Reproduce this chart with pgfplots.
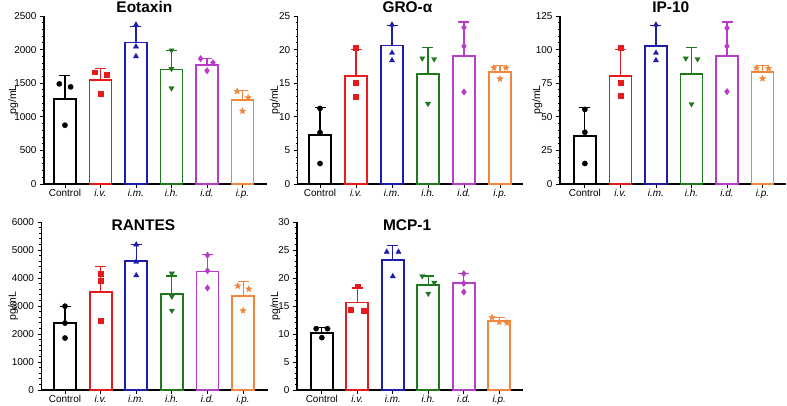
\documentclass[border=0pt]{standalone}
\usepackage{fontspec}
\setmainfont{Liberation Sans}
\usepackage{pgfplots}
\pgfplotsset{compat=1.18}
\definecolor{cK}{RGB}{0,0,0}
\definecolor{cR}{RGB}{228,26,28}
\definecolor{cB}{RGB}{30,30,170}
\definecolor{cG}{RGB}{30,120,30}
\definecolor{cM}{RGB}{185,60,200}
\definecolor{cO}{RGB}{240,135,60}
\pgfdeclareplotmark{fstar}{%
  \pgfpathmoveto{\pgfpointpolar{90}{\pgfplotmarksize}}%
  \pgfpathlineto{\pgfpointpolar{126}{0.45\pgfplotmarksize}}%
  \pgfpathlineto{\pgfpointpolar{162}{\pgfplotmarksize}}%
  \pgfpathlineto{\pgfpointpolar{198}{0.45\pgfplotmarksize}}%
  \pgfpathlineto{\pgfpointpolar{234}{\pgfplotmarksize}}%
  \pgfpathlineto{\pgfpointpolar{270}{0.45\pgfplotmarksize}}%
  \pgfpathlineto{\pgfpointpolar{306}{\pgfplotmarksize}}%
  \pgfpathlineto{\pgfpointpolar{342}{0.45\pgfplotmarksize}}%
  \pgfpathlineto{\pgfpointpolar{18}{\pgfplotmarksize}}%
  \pgfpathlineto{\pgfpointpolar{54}{0.45\pgfplotmarksize}}%
  \pgfpathclose\pgfusepathqfillstroke}
\pgfplotsset{
  panel/.style={scale only axis, height=168bp, clip=false,
    axis lines*=left, enlargelimits=false, ymin=0,
    axis line style={line width=1.1bp},
    tick align=outside, major tick length=4bp, minor tick length=2.2bp,
    every tick/.style={line width=0.9bp, black},
    minor y tick num=4,
    xtick={0,1,2,3,4,5},
    xticklabels={Control,\textit{i.v.},\textit{i.m.},\textit{i.h.},\textit{i.d.},\textit{i.p.}},
    tick label style={font=\fontsize{10}{11}\selectfont},
    xticklabel style={yshift=1.8bp},
    /pgf/number format/assume math mode=true,
    /pgf/number format/1000 sep={},
    ylabel={pg/mL}, ylabel style={font=\fontsize{10.5}{12}\selectfont, anchor=center},
  },
  barc/.style={ybar, bar width=22bp, bar shift=0pt, fill=white, draw=#1, line width=1.8bp,
    error bars/.cd, y dir=plus, y explicit,
    error bar style={#1, line width=1.1bp},
    error mark options={#1, line width=1.1bp, mark size=5.5bp, rotate=90}},
  pC/.style={only marks, mark=*, mark size=2.6bp, cK, draw=cK, fill=cK},
  pR/.style={only marks, mark=square*, mark size=2.4bp, cR, draw=cR, fill=cR},
  pB/.style={only marks, mark=triangle*, mark size=3bp, cB, draw=cB, fill=cB},
  pG/.style={only marks, mark=triangle*, mark options={rotate=180}, mark size=3bp, cG, draw=cG, fill=cG},
  pM/.style={only marks, mark=diamond*, mark size=3.2bp, cM, draw=cM, fill=cM},
  pO/.style={only marks, mark=fstar, mark size=3.2bp, cO, draw=cO, fill=cO},
}
\newcommand{\ttl}[3]{\node[font=\bfseries\fontsize{15.5}{17}\selectfont] at (axis description cs:#1,#2) {#3};}
\begin{document}
\begin{tikzpicture}[x=1bp,y=1bp]
\useasboundingbox (0,0) rectangle (787,405);
% ---------------- Eotaxin
\begin{axis}[panel, at={(44bp,221bp)}, anchor=south west, width=223bp,
  xmin=-0.59, xmax=5.69, ymax=2500, ytick distance=500,
  ylabel style={at={(axis description cs:-0.137,0.5)}}]
\addplot[barc=cK] coordinates {(0,1270) +- (0,345)};
\addplot[barc=cR] coordinates {(1,1545) +- (0,180)};
\addplot[barc=cB] coordinates {(2,2105) +- (0,245)};
\addplot[barc=cG] coordinates {(3,1705) +- (0,285)};
\addplot[barc=cM] coordinates {(4,1775) +- (0,95)};
\addplot[barc=cO] coordinates {(5,1245) +- (0,150)};
\addplot[pC] coordinates {(-0.16,1490) (0.16,1445) (0,875)};
\addplot[pR] coordinates {(0.84,1665) (1.17,1625) (1,1340)};
\addplot[pB] coordinates {(2,2370) (2,2045) (2,1900)};
\addplot[pG] coordinates {(3,1990) (3,1715) (3,1425)};
\addplot[pM] coordinates {(3.82,1865) (4.17,1805) (4,1685)};
\addplot[pO] coordinates {(4.85,1380) (5.16,1285) (5,1085)};
\ttl{0.45}{1.052}{Eotaxin}
\end{axis}
% ---------------- GRO-alpha
\begin{axis}[panel, at={(297.7bp,221bp)}, anchor=south west, width=225.3bp,
  xmin=-0.62, xmax=5.64, ymax=25, ytick distance=5,
  ylabel style={at={(axis description cs:-0.1,0.5)}}]
\addplot[barc=cK] coordinates {(0,7.25) +- (0,4.1)};
\addplot[barc=cR] coordinates {(1,16.1) +- (0,3.9)};
\addplot[barc=cB] coordinates {(2,20.6) +- (0,3.0)};
\addplot[barc=cG] coordinates {(3,16.4) +- (0,3.95)};
\addplot[barc=cM] coordinates {(4,19.1) +- (0,5.0)};
\addplot[barc=cO] coordinates {(5,16.65) +- (0,1.0)};
\addplot[pC] coordinates {(0,11.25) (0,7.65) (0,3.05)};
\addplot[pR] coordinates {(1,20.3) (1,15.05) (1,13.05)};
\addplot[pB] coordinates {(2,23.7) (2,19.5) (2,18.4)};
\addplot[pG] coordinates {(2.84,18.7) (3.17,18.6) (3,11.95)};
\addplot[pM] coordinates {(4,23.3) (4,20.5) (4,13.7)};
\addplot[pO] coordinates {(4.83,17.3) (5.17,17.3) (5,15.65)};
\ttl{0.487}{1.052}{GRO-α}
\end{axis}
% ---------------- IP-10
\begin{axis}[panel, at={(560bp,221bp)}, anchor=south west, width=226bp,
  xmin=-0.70, xmax=5.66, ymax=125, ytick distance=25,
  ylabel style={at={(axis description cs:-0.1,0.5)}}]
\addplot[barc=cK] coordinates {(0,36) +- (0,20.75)};
\addplot[barc=cR] coordinates {(1,80.5) +- (0,19.5)};
\addplot[barc=cB] coordinates {(2,102.75) +- (0,15.25)};
\addplot[barc=cG] coordinates {(3,81.75) +- (0,19.75)};
\addplot[barc=cM] coordinates {(4,95.5) +- (0,25)};
\addplot[barc=cO] coordinates {(5,83.25) +- (0,5)};
\addplot[pC] coordinates {(0,55.5) (0,38.5) (0,15.25)};
\addplot[pR] coordinates {(1,101.5) (1,75.25) (1,65.5)};
\addplot[pB] coordinates {(2,118.5) (2,97.5) (2,92)};
\addplot[pG] coordinates {(2.84,93.5) (3.17,93) (3,59.5)};
\addplot[pM] coordinates {(4,116) (4,102.5) (4,68.75)};
\addplot[pO] coordinates {(4.83,86.25) (5.17,86) (5,78.5)};
\ttl{0.49}{1.052}{IP-10}
\end{axis}
% ---------------- RANTES
\begin{axis}[panel, at={(41.5bp,15bp)}, anchor=south west, width=226.5bp,
  xmin=-0.66, xmax=5.70, ymax=6000, ytick distance=1000,
  ylabel style={at={(axis description cs:-0.125,0.5)}}]
\addplot[barc=cK] coordinates {(0,2390) +- (0,603)};
\addplot[barc=cR] coordinates {(1,3490) +- (0,923)};
\addplot[barc=cB] coordinates {(2,4614) +- (0,580)};
\addplot[barc=cG] coordinates {(3,3420) +- (0,650)};
\addplot[barc=cM] coordinates {(4,4235) +- (0,592)};
\addplot[barc=cO] coordinates {(5,3360) +- (0,508)};
\addplot[pC] coordinates {(0,2993) (0,2390) (0,1857)};
\addplot[pR] coordinates {(1,4141) (1,3904) (1,2473)};
\addplot[pB] coordinates {(2,5194) (2,4579) (2,4093)};
\addplot[pG] coordinates {(3,4164) (3,3336) (3,2839)};
\addplot[pM] coordinates {(4,4815) (4,4259) (4,3644)};
\addplot[pO] coordinates {(4.85,3715) (5.16,3608) (5,2839)};
\ttl{0.45}{0.98}{RANTES}
\end{axis}
% ---------------- MCP-1
\begin{axis}[panel, at={(297bp,15bp)}, anchor=south west, width=226bp,
  xmin=-0.70, xmax=5.67, ymax=30, ytick distance=5,
  ylabel style={at={(axis description cs:-0.096,0.5)}}]
\addplot[barc=cK] coordinates {(0,10.24) +- (0,1.0)};
\addplot[barc=cR] coordinates {(1,15.62) +- (0,2.6)};
\addplot[barc=cB] coordinates {(2,23.2) +- (0,2.54)};
\addplot[barc=cG] coordinates {(3,18.76) +- (0,1.59)};
\addplot[barc=cM] coordinates {(4,19.05) +- (0,1.72)};
\addplot[barc=cO] coordinates {(5,12.31) +- (0,0.65)};
\addplot[pC] coordinates {(-0.16,10.95) (0.16,10.95) (0,9.35)};
\addplot[pR] coordinates {(1,18.52) (0.82,14.38) (1.17,14.14)};
\addplot[pB] coordinates {(1.83,24.67) (2.16,24.67) (2,20.3)};
\addplot[pG] coordinates {(2.83,20.35) (3.17,19.17) (3,17.22)};
\addplot[pM] coordinates {(4,20.77) (4,19.05) (4,17.51)};
\addplot[pO] coordinates {(4.8,12.96) (5,12.13) (5.21,12.01)};
\ttl{0.487}{0.98}{MCP-1}
\end{axis}
\end{tikzpicture}
\end{document}
